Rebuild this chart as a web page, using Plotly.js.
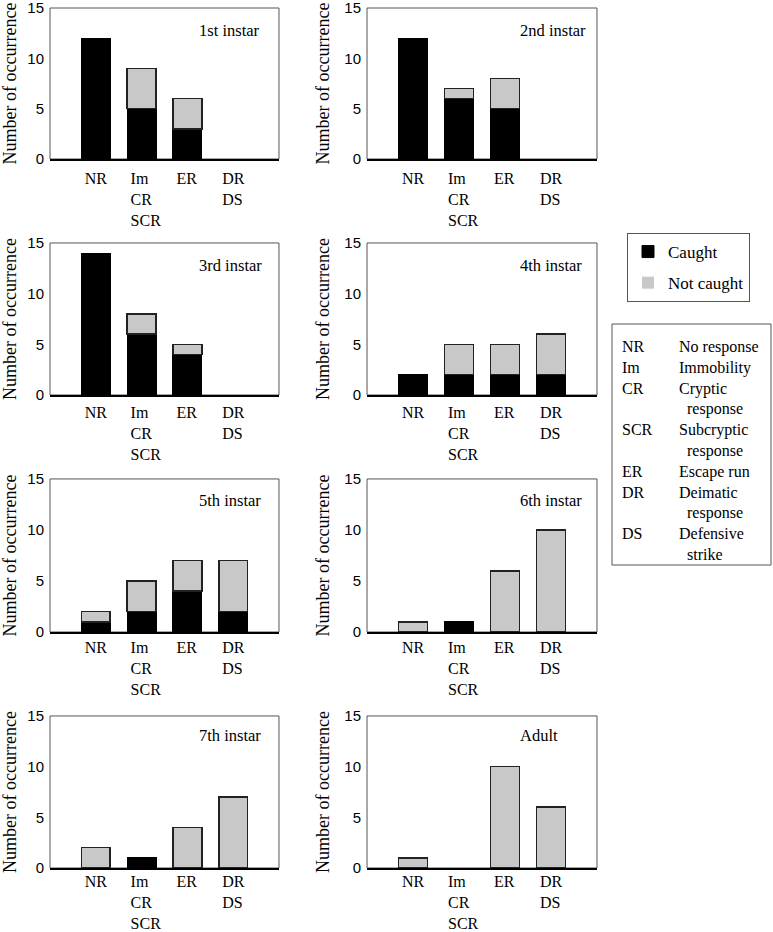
<!DOCTYPE html>
<html>
<head>
<meta charset="utf-8">
<script src="https://cdn.plot.ly/plotly-3.0.1.min.js"></script>
<style>html,body{margin:0;padding:0;background:#fff;}#chart{width:773px;height:932px;}</style>
</head>
<body>
<div id="chart"></div>
<script>
// Categories (x tick labels)
const categories = ["NR", "Im<br>CR<br>SCR", "ER", "DR<br>DS"];
const panelTitles = ["1st instar", "2nd instar", "3rd instar", "4th instar",
                     "5th instar", "6th instar", "7th instar", "Adult"];

// Caught / Not caught counts per stage (order: NR, Im/CR/SCR, ER, DR/DS)
const caught1st    = [12, 5, 3, 0];
const notCaught1st = [0, 4, 3, 0];
const caught2nd    = [12, 6, 5, 0];
const notCaught2nd = [0, 1, 3, 0];
const caught3rd    = [14, 6, 4, 0];
const notCaught3rd = [0, 2, 1, 0];
const caught4th    = [2, 2, 2, 2];
const notCaught4th = [0, 3, 3, 4];
const caught5th    = [1, 2, 4, 2];
const notCaught5th = [1, 3, 3, 5];
const caught6th    = [0, 1, 0, 0];
const notCaught6th = [1, 0, 6, 10];
const caught7th    = [0, 1, 0, 0];
const notCaught7th = [2, 0, 4, 7];
const caughtAdult    = [0, 0, 0, 0];
const notCaughtAdult = [1, 0, 10, 6];

const yTickVals = [0, 5, 10, 15];
const seriesNames = ["Caught", "Not caught"];

const glossaryAbbr = ["NR", "Im", "CR", "", "SCR", "", "ER", "DR", "", "DS"];
const glossaryDesc = ["No response", "Immobility", "Cryptic", "&nbsp;&nbsp;response",
                      "Subcryptic", "&nbsp;&nbsp;response", "Escape run", "Deimatic",
                      "&nbsp;&nbsp;response", "Defensive", "&nbsp;&nbsp;strike"];

const caughtSets = [caught1st, caught2nd, caught3rd, caught4th, caught5th, caught6th, caught7th, caughtAdult];
const notCaughtSets = [notCaught1st, notCaught2nd, notCaught3rd, notCaught4th, notCaught5th, notCaught6th, notCaught7th, notCaughtAdult];

const serif = "'Liberation Serif', 'Times New Roman', serif";
const sans = "'Liberation Sans', Arial, sans-serif";

const colX = [[0.0647, 0.3609], [0.4748, 0.7723]];
const rowY = [[0.8294, 0.9914], [0.5762, 0.7393], [0.3219, 0.4861], [0.0687, 0.2318]];
const rowStandoff = [4, 2, 0, -2];
const rowTitleY = [0.85, 0.855, 0.86, 0.87];

const data = [];
const layout = {
  width: 773, height: 932,
  margin: {l: 0, r: 0, t: 0, b: 0},
  paper_bgcolor: "#fff", plot_bgcolor: "#fff",
  font: {family: serif, color: "#000"},
  barmode: "stack",
  showlegend: true,
  legend: {
    x: 627/773, y: 1 - 233/932, xanchor: "left", yanchor: "top",
    bordercolor: "#555", borderwidth: 1,
    font: {family: serif, size: 17, color: "#000"},
    traceorder: "grouped", tracegroupgap: 6,
    bgcolor: "#fff"
  },
  shapes: [],
  annotations: []
};

const lineW = (arr, w) => arr.map(v => (v > 0 ? w : 0));

for (let i = 0; i < 8; i++) {
  const n = i + 1;
  const xa = n === 1 ? "x" : "x" + n;
  const ya = n === 1 ? "y" : "y" + n;
  const col = i % 2, row = Math.floor(i / 2);
  data.push({
    type: "bar", x: categories, y: caughtSets[i], name: seriesNames[0],
    xaxis: xa, yaxis: ya, width: 0.63,
    marker: {color: "#000000", line: {color: "#000", width: lineW(caughtSets[i], 1)}},
    showlegend: i === 0, legendgroup: "caught", hoverinfo: "x+y+name"
  });
  data.push({
    type: "bar", x: categories, y: notCaughtSets[i], name: seriesNames[1],
    xaxis: xa, yaxis: ya, width: 0.63,
    marker: {color: "#c8c8c8", line: {color: "#222", width: lineW(notCaughtSets[i], 1.5)}},
    showlegend: i === 0, legendgroup: "notcaught", hoverinfo: "x+y+name"
  });
  const xKey = n === 1 ? "xaxis" : "xaxis" + n;
  const yKey = n === 1 ? "yaxis" : "yaxis" + n;
  layout[xKey] = {
    domain: colX[col], anchor: ya, type: "category",
    categoryorder: "array", categoryarray: categories,
    range: [-1, 4], fixedrange: true,
    showline: true, linecolor: "#000", linewidth: 2, mirror: false,
    showgrid: false, zeroline: false, ticks: "",
    ticklabelposition: "outside right", ticklabelshift: -12, ticklabelstandoff: rowStandoff[row],
    ticklabeloverflow: "allow",
    tickfont: {family: serif, size: 16, color: "#000"}
  };
  layout[yKey] = {
    domain: rowY[row], anchor: xa, range: [0, 15], fixedrange: true,
    tickmode: "array", tickvals: yTickVals,
    showline: false, showgrid: false, zeroline: false, ticks: "",
    ticklabelstandoff: 5, ticklabeloverflow: "allow",
    tickfont: {family: sans, size: 15, color: "#000"},
    title: {text: "Number of occurrence", font: {family: serif, size: 18, color: "#000"}, standoff: 10}
  };
  layout.shapes.push({
    type: "rect", xref: xa + " domain", yref: ya + " domain",
    x0: 0, x1: 1, y0: 0, y1: 1, layer: "below",
    line: {color: "#555", width: 1}, fillcolor: "rgba(0,0,0,0)"
  });
  layout.annotations.push({
    xref: xa + " domain", yref: ya + " domain",
    x: col === 0 ? 0.64 : 0.655, y: rowTitleY[row], xanchor: "left", yanchor: "middle",
    text: panelTitles[i], showarrow: false,
    font: {family: serif, size: 16.5, color: "#000"}
  });
}

// Glossary box
layout.shapes.push({
  type: "rect", xref: "paper", yref: "paper",
  x0: 612/773, x1: 771/773, y0: 1 - 565/932, y1: 1 - 324/932,
  line: {color: "#555", width: 1}, fillcolor: "rgba(0,0,0,0)"
});
layout.annotations.push({
  xref: "paper", yref: "paper", x: 620/773, y: 1 - 336/932,
  xanchor: "left", yanchor: "top", align: "left", showarrow: false,
  text: glossaryAbbr.join("<br>"),
  font: {family: serif, size: 16, color: "#000"}
});
layout.annotations.push({
  xref: "paper", yref: "paper", x: 677/773, y: 1 - 336/932,
  xanchor: "left", yanchor: "top", align: "left", showarrow: false,
  text: glossaryDesc.join("<br>"),
  font: {family: serif, size: 16, color: "#000"}
});

Plotly.newPlot("chart", data, layout, {staticPlot: true});
</script>
</body>
</html>
